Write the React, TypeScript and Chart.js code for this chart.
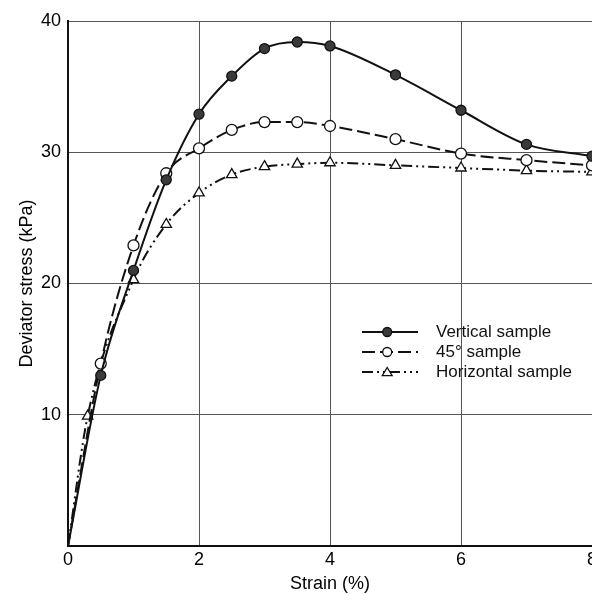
import React, { useEffect, useRef } from 'react';
import { Chart, registerables } from 'chart.js';
Chart.register(...registerables);

const xTickValues = [0, 2, 4, 6, 8];
const yTickValues = [10, 20, 30, 40];
const seriesNames = ['Vertical sample', '45° sample', 'Horizontal sample'];

const verticalStrain = [0, 0.5, 1, 1.5, 2, 2.5, 3, 3.5, 4, 5, 6, 7, 8];
const verticalStress = [0, 13, 21, 27.9, 32.9, 35.8, 37.9, 38.4, 38.1, 35.9, 33.2, 30.6, 29.7];

const diagonalStrain = [0, 0.5, 1, 1.5, 2, 2.5, 3, 3.5, 4, 5, 6, 7, 8];
const diagonalStress = [0, 13.9, 22.9, 28.4, 30.3, 31.7, 32.3, 32.3, 32.0, 31.0, 29.9, 29.4, 29.0];

const horizontalStrain = [0, 0.3, 1, 1.5, 2, 2.5, 3, 3.5, 4, 5, 6, 7, 8];
const horizontalStress = [0, 9.9, 20.3, 24.5, 26.9, 28.3, 28.9, 29.1, 29.2, 29.0, 28.8, 28.6, 28.5];

const FONT = '"Liberation Sans", Arial, Helvetica, sans-serif';

const toPoints = (xs: number[], ys: number[]) => xs.map((x, i) => ({ x, y: ys[i] }));
const radii = (xs: number[], r: number) => xs.map((x) => (x === 0 ? 0 : r));

const dashSolid: number[] = [];
const dashLong = [13, 5];
const dashDotDot = [11, 4, 2, 4, 2, 4];

const legendPlugin = {
  id: 'inlineLegend',
  afterDraw(chart: any) {
    const ctx = chart.ctx;
    const opts = chart.options.plugins.inlineLegend;
    const { x0, y0, rowGap, lineLen, textGap } = opts;
    chart.data.datasets.forEach((ds: any, i: number) => {
      const y = y0 + i * rowGap;
      ctx.save();
      ctx.strokeStyle = '#111';
      ctx.lineWidth = 2;
      ctx.setLineDash(ds.borderDash || []);
      ctx.beginPath();
      ctx.moveTo(x0, y);
      ctx.lineTo(x0 + lineLen, y);
      ctx.stroke();
      ctx.setLineDash([]);
      const mx = x0 + lineLen * 0.45;
      ctx.fillStyle = ds.pointBackgroundColor;
      ctx.strokeStyle = '#111';
      ctx.lineWidth = 1.3;
      const r = 4.5;
      ctx.beginPath();
      if (ds.pointStyle === 'triangle') {
        ctx.moveTo(mx, y - r);
        ctx.lineTo(mx + r * 1.1, y + r * 0.8);
        ctx.lineTo(mx - r * 1.1, y + r * 0.8);
        ctx.closePath();
      } else {
        ctx.arc(mx, y, r, 0, Math.PI * 2);
      }
      ctx.fill();
      ctx.stroke();
      ctx.fillStyle = '#111';
      ctx.font = '17px ' + FONT;
      ctx.textBaseline = 'middle';
      ctx.textAlign = 'left';
      ctx.fillText(ds.label, x0 + lineLen + textGap, y);
      ctx.restore();
    });
  },
};

export default function App() {
  const ref = useRef<HTMLCanvasElement>(null);
  useEffect(() => {
    if (!ref.current) return;
    const common = {
      borderColor: '#111',
      borderWidth: 2,
      pointBorderColor: '#111',
      pointBorderWidth: 1.3,
      cubicInterpolationMode: 'monotone' as const,
      fill: false,
      showLine: true,
    };
    const chart = new Chart(ref.current, {
      type: 'line',
      data: {
        datasets: [
          {
            ...common,
            label: seriesNames[0],
            data: toPoints(verticalStrain, verticalStress),
            borderDash: dashSolid,
            pointStyle: 'circle',
            pointBackgroundColor: '#3a3a3a',
            pointRadius: radii(verticalStrain, 5),
          },
          {
            ...common,
            label: seriesNames[1],
            data: toPoints(diagonalStrain, diagonalStress),
            borderDash: dashLong,
            pointStyle: 'circle',
            pointBackgroundColor: '#ffffff',
            pointRadius: radii(diagonalStrain, 5.5),
          },
          {
            ...common,
            label: seriesNames[2],
            data: toPoints(horizontalStrain, horizontalStress),
            borderDash: dashDotDot,
            pointStyle: 'triangle',
            pointBackgroundColor: '#ffffff',
            pointRadius: radii(horizontalStrain, 6),
          },
        ],
      },
      options: {
        animation: false,
        responsive: false,
        devicePixelRatio: 1,
        layout: { padding: { top: 21, right: 18, bottom: 0, left: 0 } },
        scales: {
          x: {
            type: 'linear',
            min: 0,
            max: 8,
            afterBuildTicks: (s: any) => {
              s.ticks = xTickValues.map((v) => ({ value: v }));
            },
            afterFit: (s: any) => {
              s.height = 49;
            },
            ticks: { color: '#000', font: { family: FONT, size: 18 }, padding: 3 },
            grid: { color: '#555', lineWidth: 1, drawTicks: false },
            border: { color: '#111', width: 2 },
            title: {
              display: true,
              text: 'Strain (%)',
              color: '#000',
              font: { family: FONT, size: 18 },
              padding: { top: 0, bottom: 0 },
            },
          },
          y: {
            type: 'linear',
            min: 0,
            max: 40,
            afterBuildTicks: (s: any) => {
              s.ticks = [0, ...yTickValues].map((v) => ({ value: v }));
            },
            afterFit: (s: any) => {
              s.width = 68;
            },
            ticks: {
              color: '#000',
              font: { family: FONT, size: 18 },
              padding: 7,
              callback: (v: any) => (v === 0 ? '' : String(v)),
            },
            grid: { color: '#555', lineWidth: 1, drawTicks: false },
            border: { color: '#111', width: 2 },
            title: {
              display: true,
              text: 'Deviator stress (kPa)',
              color: '#000',
              font: { family: FONT, size: 18 },
              padding: { top: 16, bottom: 0 },
            },
          },
        },
        plugins: {
          legend: { display: false },
          tooltip: { enabled: false },
          inlineLegend: { x0: 362, y0: 332, rowGap: 20, lineLen: 56, textGap: 18 },
        } as any,
      },
      plugins: [legendPlugin],
    });
    return () => chart.destroy();
  }, []);

  return (
    <div style={{ position: 'absolute', left: 0, top: 0, width: 592, height: 595, overflow: 'hidden', background: '#fff' }}>
      <canvas ref={ref} width={610} height={595} style={{ display: 'block' }} />
    </div>
  );
}
